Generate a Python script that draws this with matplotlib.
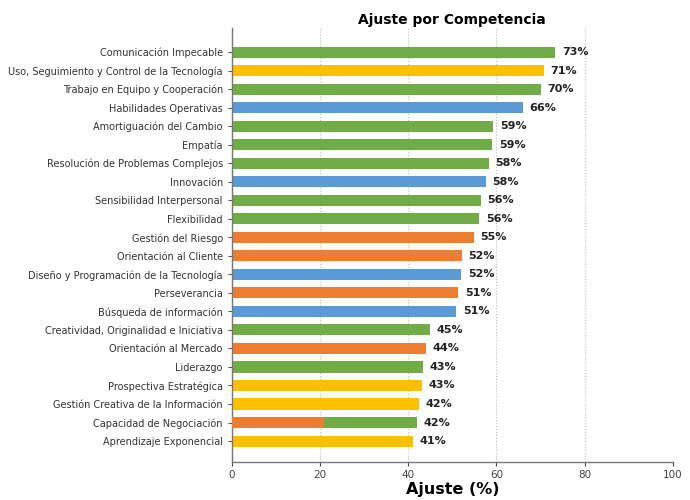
import matplotlib
matplotlib.use("Agg")
import matplotlib.pyplot as plt

competencias = [
    "Comunicación Impecable",
    "Uso, Seguimiento y Control de la Tecnología",
    "Trabajo en Equipo y Cooperación",
    "Habilidades Operativas",
    "Amortiguación del Cambio",
    "Empatía",
    "Resolución de Problemas Complejos",
    "Innovación",
    "Sensibilidad Interpersonal",
    "Flexibilidad",
    "Gestión del Riesgo",
    "Orientación al Cliente",
    "Diseño y Programación de la Tecnología",
    "Perseverancia",
    "Búsqueda de información",
    "Creatividad, Originalidad e Iniciativa",
    "Orientación al Mercado",
    "Liderazgo",
    "Prospectiva Estratégica",
    "Gestión Creativa de la Información",
    "Capacidad de Negociación",
    "Aprendizaje Exponencial",
]
ajuste = [73.4, 70.8, 70.1, 66.0, 59.3, 59.1, 58.3, 57.6, 56.4, 56.1, 54.9,
          52.2, 52.0, 51.4, 50.9, 45.0, 44.1, 43.3, 43.2, 42.4, 41.9, 41.1]
grupo = ["verde", "amarillo", "verde", "azul", "verde", "verde", "verde", "azul",
         "verde", "verde", "naranja", "naranja", "azul", "naranja", "azul", "verde",
         "naranja", "verde", "amarillo", "amarillo", "verde", "amarillo"]
# overlapping segment drawn over "Capacidad de Negociación"
overlay_categoria = "Capacidad de Negociación"
overlay_valor = 21.0
overlay_grupo = "naranja"

colores = {"verde": "#70AD47", "amarillo": "#FFC000", "azul": "#5B9BD5", "naranja": "#ED7D31"}

fig = plt.figure(figsize=(6.9, 5.0), dpi=100)
ax = fig.add_axes([0.336, 0.076, 0.639, 0.868])

y = list(range(len(competencias)))
ax.barh(y, ajuste, height=0.6, color=[colores[g] for g in grupo], zorder=2)
oi = competencias.index(overlay_categoria)
ax.barh([oi], [overlay_valor], height=0.6, color=colores[overlay_grupo], zorder=3)

for yi, v in zip(y, ajuste):
    ax.text(v + 1.5, yi, f"{v:.0f}%", va="center", ha="left", fontsize=8,
            fontweight="bold", color="#222222")

ax.set_yticks(y)
ax.set_yticklabels(competencias, fontsize=7, color="#333333")
ax.set_ylim(len(competencias) - 1 + 1.13, -1.3)
ax.set_xlim(0, 100)
ax.set_xticks([0, 20, 40, 60, 80, 100])
ax.tick_params(axis="x", labelsize=7.5, colors="#444444", length=3, pad=3)
ax.tick_params(axis="y", length=3, colors="#555555", labelcolor="#333333")
ax.xaxis.grid(True, linestyle=":", color="#bbbbbb", linewidth=0.8, zorder=0)
ax.set_axisbelow(True)
for s in ["top", "right"]:
    ax.spines[s].set_visible(False)
for s in ["left", "bottom"]:
    ax.spines[s].set_color("#777777")
    ax.spines[s].set_linewidth(1.0)

ax.set_title("Ajuste por Competencia", fontsize=10, fontweight="bold", pad=3)
ax.set_xlabel("Ajuste (%)", fontsize=11.5, fontweight="bold", labelpad=1)

fig.savefig("out.png", dpi=100)
